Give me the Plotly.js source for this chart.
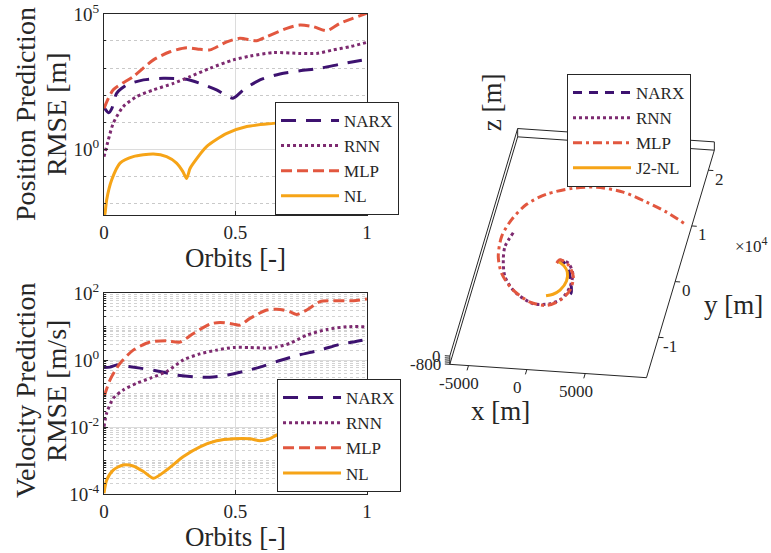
<!DOCTYPE html>
<html>
<head>
<meta charset="utf-8">
<script src="https://cdn.plot.ly/plotly-3.0.1.min.js"></script>
<style>
  html, body { margin: 0; padding: 0; background: #ffffff; }
  #chart { width: 771px; height: 553px; }
</style>
</head>
<body>
<div id="chart"></div>
<script>
// ---------- Position prediction RMSE [m] ----------
const posOrbitNARX = [0, 0.018, 0.03, 0.048, 0.086, 0.15, 0.226, 0.314, 0.365, 0.428, 0.49, 0.53, 0.593, 0.669, 0.745, 0.821, 0.897, 0.948, 1.0];
const posNARX      = [35, 22, 32, 115, 234, 363, 417, 380, 269, 155, 76, 155, 363, 603, 794, 977, 1380, 1700, 2100];

const posOrbitRNN = [0, 0.016, 0.035, 0.073, 0.124, 0.188, 0.264, 0.327, 0.403, 0.492, 0.555, 0.644, 0.745, 0.809, 0.872, 0.935, 1.0];
const posRNN      = [0.52, 2.1, 8.9, 37, 87, 155, 269, 479, 977, 1995, 2754, 3715, 3467, 3467, 4677, 6166, 8913];

const posOrbitMLP = [0, 0.035, 0.111, 0.188, 0.251, 0.314, 0.365, 0.403, 0.467, 0.517, 0.58, 0.619, 0.695, 0.745, 0.796, 0.847, 0.897, 1.0];
const posMLP      = [32, 155, 480, 2000, 4000, 5600, 4900, 4700, 9300, 12600, 10200, 14500, 29500, 39000, 34000, 24000, 44700, 107000];

const posOrbitNL = [0, 0.004, 0.01, 0.029, 0.061, 0.111, 0.188, 0.238, 0.276, 0.30, 0.314, 0.327, 0.34, 0.39, 0.467, 0.543, 0.644, 0.75, 0.85, 1.0];
const posNL      = [0.003, 0.0042, 0.013, 0.071, 0.30, 0.52, 0.65, 0.52, 0.30, 0.145, 0.081, 0.19, 0.30, 1.23, 3.8, 6.8, 8.9, 11, 12.6, 14];

// ---------- Velocity prediction RMSE [m/s] ----------
const velOrbitNARX = [0, 0.023, 0.048, 0.073, 0.137, 0.213, 0.276, 0.34, 0.403, 0.467, 0.53, 0.593, 0.669, 0.745, 0.821, 0.897, 0.948, 1.0];
const velNARX      = [0.6, 0.62, 0.72, 0.68, 0.58, 0.46, 0.36, 0.32, 0.31, 0.36, 0.46, 0.62, 0.98, 1.45, 2.0, 3.0, 3.5, 4.2];

const velOrbitRNN = [0, 0.01, 0.035, 0.073, 0.124, 0.175, 0.238, 0.302, 0.365, 0.428, 0.492, 0.555, 0.619, 0.657, 0.707, 0.771, 0.847, 0.922, 1.0];
const velRNN      = [0.0102, 0.026, 0.072, 0.129, 0.204, 0.288, 0.457, 1.02, 1.55, 2.0, 2.4, 2.4, 2.3, 2.5, 3.2, 5.6, 8.3, 10, 10];

const velOrbitMLP = [0, 0.023, 0.061, 0.111, 0.175, 0.238, 0.289, 0.34, 0.403, 0.441, 0.492, 0.517, 0.555, 0.619, 0.669, 0.707, 0.732, 0.771, 0.821, 0.872, 0.948, 1.0];
const velMLP      = [0.08, 0.26, 0.81, 2.0, 3.5, 3.8, 3.5, 6.3, 12, 13.5, 12, 11.2, 17.8, 31.6, 33, 28, 23.4, 31.6, 56, 60, 60, 68];

const velOrbitNL = [0, 0.01, 0.035, 0.073, 0.111, 0.15, 0.188, 0.238, 0.302, 0.365, 0.428, 0.492, 0.555, 0.593, 0.631, 0.657, 0.75, 0.87, 1.0];
const velNL      = [1.05e-4, 2.6e-4, 5.2e-4, 7.4e-4, 6.9e-4, 4.7e-4, 2.95e-4, 5.2e-4, 1.32e-3, 2.57e-3, 3.9e-3, 4.5e-3, 4.5e-3, 3.9e-3, 4.5e-3, 5.8e-3, 7.9e-3, 0.01, 0.011];

// ---------- Relative trajectory [m] ----------
const trajNARXx = [-62, 441, 1013, 1528, 1901, 1642];
const trajNARXy = [1336, 1412, 407, -1697, -4004, -4589];
const trajNARXz = [-400, -400, -400, -400, -400, -400];

const trajRNNx = [138, 919, 1542, 1657, 1256, 402, -999, -2829, -4050, -4618, -4814, -4467];
const trajRNNy = [1730, 1248, -476, -2895, -5066, -6104, -6315, -4482, -1938, 1012, 3401, 5945];
const trajRNNz = [-400, -400, -400, -400, -400, -400, -400, -400, -400, -400, -400, -400];

const trajMLPx = [-55, 138, 962, 1679, 1741, 1157, 169, -1316, -3193, -4414, -5121, -5346, -4932, -4056, -2633, -547, 1390, 3749, 5966, 7898, 9731];
const trajMLPy = [1101, 1730, 945, -1074, -3482, -5389, -6447, -6072, -3918, -1375, 1536, 5139, 8238, 11097, 13131, 14481, 14956, 14402, 12920, 11393, 9541];
const trajMLPz = [-400, -400, -400, -400, -400, -400, -400, -400, -400, -400, -400, -400, -400, -400, -400, -400, -400, -400, -400, -400, -400];

const trajNLx = [106, 626, 1056, 1218, 902, 417, -132];
const trajNLy = [1361, 713, -314, -1926, -3609, -4410, -4765];
const trajNLz = [-400, -400, -400, -400, -400, -400, -400];

const xRange3d = [-6600, 10250];
const yRange3d = [-17250, 23600];
const zRange3d = [-800, 0];
const xTicks3d = [-5000, 0, 5000];
const yTicks3d = [-10000, 0, 10000, 20000];
const yTickText3d = ['-1', '0', '1', '2'];
const zTicks3d = [-800, -600, -400, -200, 0];
const zTickLabels3d = { '-800': '-800', '0': '0' };

// ---------- styling ----------
const colNARX = '#3d1270';
const colRNN  = '#7d2a70';
const colMLP  = '#e2573f';
const colNL   = '#f6a417';
const serif = 'Liberation Serif, Times New Roman, serif';
const ink = '#262626';

// ---------- 3-D view: orthographic projection onto the page plane ----------
const viewAz = 8.1 * Math.PI / 180;     // azimuth
const viewEl = 28.5 * Math.PI / 180;    // elevation
const pxPerMetre = 0.01179;             // drawing scale of the 3-D box
const originPx = [555.5, 273.5];        // page position of (0, 0, zmin)
const W = 771, H = 553;
const viewDomainX = [0.5, 1.0];

function project(x, y, z) {
  return [
    x * Math.cos(viewAz) + y * Math.sin(viewAz),
    -x * Math.sin(viewAz) * Math.sin(viewEl) + y * Math.cos(viewAz) * Math.sin(viewEl) + z * Math.cos(viewEl)
  ];
}
function projectAll(xs, ys, zs) {
  const u = [], v = [];
  for (let i = 0; i < xs.length; i++) {
    if (xs[i] === null) { u.push(null); v.push(null); continue; }
    const p = project(xs[i], ys[i], zs[i]);
    u.push(p[0]); v.push(p[1]);
  }
  return { u: u, v: v };
}
const o3 = project(0, 0, zRange3d[0]);
const uRange = [o3[0] + (viewDomainX[0] * W - originPx[0]) / pxPerMetre, o3[0] + (viewDomainX[1] * W - originPx[0]) / pxPerMetre];
const vRange = [o3[1] - (H - originPx[1]) / pxPerMetre, o3[1] + originPx[1] / pxPerMetre];

function lineTrace(x, y, name, color, dash, xa, ya, legend) {
  return { type: 'scatter', mode: 'lines', x: x, y: y, name: name, xaxis: xa, yaxis: ya,
           legend: legend, line: { color: color, width: 3, dash: dash, shape: 'spline', smoothing: 0.7 },
           hoverinfo: 'skip' };
}

const traces = [
  lineTrace(posOrbitNARX, posNARX, 'NARX', colNARX, '15px,10px', 'x', 'y', 'legend'),
  lineTrace(posOrbitRNN,  posRNN,  'RNN',  colRNN,  '3px,3px',   'x', 'y', 'legend'),
  lineTrace(posOrbitMLP,  posMLP,  'MLP',  colMLP,  '11px,5px',  'x', 'y', 'legend'),
  lineTrace(posOrbitNL,   posNL,   'NL',   colNL,   'solid',     'x', 'y', 'legend'),
  lineTrace(velOrbitNARX, velNARX, 'NARX', colNARX, '15px,10px', 'x2', 'y2', 'legend2'),
  lineTrace(velOrbitRNN,  velRNN,  'RNN',  colRNN,  '3px,3px',   'x2', 'y2', 'legend2'),
  lineTrace(velOrbitMLP,  velMLP,  'MLP',  colMLP,  '11px,5px',  'x2', 'y2', 'legend2'),
  lineTrace(velOrbitNL,   velNL,   'NL',   colNL,   'solid',     'x2', 'y2', 'legend2')
];

// box edges (back planes) and axis ticks of the 3-D view
const X0 = xRange3d[0], X1 = xRange3d[1], Y0 = yRange3d[0], Y1 = yRange3d[1], Z0 = zRange3d[0], Z1 = zRange3d[1];
const edges = [
  [[X0, Y0, Z0], [X1, Y0, Z0]], [[X1, Y0, Z0], [X1, Y1, Z0]], [[X1, Y1, Z0], [X0, Y1, Z0]], [[X0, Y1, Z0], [X0, Y0, Z0]],
  [[X0, Y0, Z1], [X0, Y1, Z1]], [[X0, Y1, Z1], [X1, Y1, Z1]],
  [[X0, Y0, Z0], [X0, Y0, Z1]], [[X0, Y1, Z0], [X0, Y1, Z1]], [[X1, Y1, Z0], [X1, Y1, Z1]]
];
const boxX = [], boxY = [], boxZ = [];
edges.forEach(e => { boxX.push(e[0][0], e[1][0], null); boxY.push(e[0][1], e[1][1], null); boxZ.push(e[0][2], e[1][2], null); });
const boxP = projectAll(boxX, boxY, boxZ);

const tickPx = 5;
function tickSeg(p, dir) {
  // short mark from p, pointing along data direction dir, tickPx long on the page
  const a = project(p[0], p[1], p[2]);
  const b = project(p[0] + dir[0], p[1] + dir[1], p[2] + dir[2]);
  const du = b[0] - a[0], dv = b[1] - a[1];
  const n = Math.sqrt(du * du + dv * dv) * pxPerMetre;
  return [[a[0], a[0] + du / n * tickPx, null], [a[1], a[1] + dv / n * tickPx, null]];
}
const tickU = [], tickV = [];
xTicks3d.forEach(t => { const s = tickSeg([t, Y0, Z0], [0, -1, 0]); tickU.push(...s[0]); tickV.push(...s[1]); });
yTicks3d.forEach(t => { const s = tickSeg([X1, t, Z0], [1, 0, 0]); tickU.push(...s[0]); tickV.push(...s[1]); });
zTicks3d.forEach(t => { const s = tickSeg([X0, Y0, t], [-1, 0, 0]); tickU.push(...s[0]); tickV.push(...s[1]); });

traces.push({ type: 'scatter', mode: 'lines', x: boxP.u, y: boxP.v, xaxis: 'x3', yaxis: 'y3',
              line: { color: ink, width: 1 }, showlegend: false, hoverinfo: 'skip' });
traces.push({ type: 'scatter', mode: 'lines', x: tickU, y: tickV, xaxis: 'x3', yaxis: 'y3',
              line: { color: ink, width: 1 }, showlegend: false, hoverinfo: 'skip' });

function traj(xs, ys, zs, name, color, dash) {
  const p = projectAll(xs, ys, zs);
  return { type: 'scatter', mode: 'lines', x: p.u, y: p.v, name: name, xaxis: 'x3', yaxis: 'y3',
           legend: 'legend3', line: { color: color, width: 3, dash: dash, shape: 'spline', smoothing: 0.8 },
           hoverinfo: 'skip' };
}
traces.push(traj(trajNARXx, trajNARXy, trajNARXz, 'NARX', colNARX, '9px,7px'));
traces.push(traj(trajRNNx,  trajRNNy,  trajRNNz,  'RNN',  colRNN,  '3px,3px'));
traces.push(traj(trajMLPx,  trajMLPy,  trajMLPz,  'MLP',  colMLP,  '9px,4px,3px,4px'));
traces.push(traj(trajNLx,   trajNLy,   trajNLz,   'J2-NL', colNL,  'solid'));

// labels of the 3-D view
const ann = [];
function ann3(p, text, opts) {
  const q = project(p[0], p[1], p[2]);
  ann.push(Object.assign({ xref: 'x3', yref: 'y3', x: q[0], y: q[1], text: text, showarrow: false,
                           xanchor: 'center', yanchor: 'middle',
                           font: { family: serif, size: 17, color: ink } }, opts));
}
xTicks3d.forEach(t => ann3([t, Y0, Z0], String(t), { xshift: -9, yshift: -18 }));
yTicks3d.forEach((t, i) => ann3([X1, t, Z0], yTickText3d[i], { xshift: 11, yshift: -9 }));
zTicks3d.forEach(t => { if (zTickLabels3d[String(t)]) ann3([X0, Y0, t], zTickLabels3d[String(t)], { xanchor: 'right', xshift: -7, yshift: 0 }); });
ann3([X1, 10000, Z0], '×10<sup>4</sup>', { xshift: 60, yshift: -19 });
ann3([(X0 + X1) / 2, Y0, Z0], 'x [m]', { xshift: -48, yshift: -40, font: { family: serif, size: 27, color: ink } });
ann3([X1, (Y0 + Y1) / 2, Z0], 'y [m]', { xshift: 53, yshift: -41, font: { family: serif, size: 27, color: ink } });
ann3([X0, Y1, Z1], 'z [m]', { xshift: -26, yshift: 26, textangle: -90, font: { family: serif, size: 27, color: ink } });

// y-axis titles of the two error panels
const titleFont = { family: serif, size: 28, color: ink };
function yTitle(xPx, yPx, text) {
  ann.push({ xref: 'paper', yref: 'paper', x: xPx / W, y: 1 - yPx / H, xanchor: 'center', yanchor: 'middle',
             text: text, textangle: -90, showarrow: false, font: titleFont });
}
yTitle(25, 114, 'Position Prediction');
yTitle(56, 114, 'RMSE [m]');
yTitle(25, 391, 'Velocity Prediction');
yTitle(56, 391, 'RMSE [m/s]');

function decades(lo, hi, full) {
  const out = [];
  for (let k = lo; k < hi; k++) {
    const steps = full ? [1, 2, 3, 4, 5, 6, 7, 8, 9] : [1];
    steps.forEach(m => out.push(m * Math.pow(10, k)));
  }
  out.push(Math.pow(10, hi));
  return out;
}

const xCommon = {
  range: [0, 1], tickvals: [0, 0.5, 1], ticktext: ['0', '0.5', '1'],
  showline: true, mirror: true, linecolor: ink, linewidth: 1,
  ticks: 'inside', ticklen: 4, tickcolor: ink,
  showgrid: true, gridcolor: '#dcdcdc', zeroline: false,
  tickfont: { family: serif, size: 19, color: ink },
  title: { text: 'Orbits [-]', font: { family: serif, size: 27, color: ink }, standoff: 5 }
};

const posMajor = [1, 1e5];
const velMajor = [1e-4, 1e-2, 1, 1e2];
const legendStyle = { xanchor: 'left', yanchor: 'top', bgcolor: '#ffffff', bordercolor: ink, borderwidth: 1,
                      font: { family: serif, size: 17, color: ink }, itemwidth: 58 };

const layout = {
  width: W, height: H,
  margin: { l: 0, r: 0, t: 0, b: 0 },
  paper_bgcolor: '#ffffff', plot_bgcolor: '#ffffff',
  showlegend: true,
  font: { family: serif, color: ink },
  xaxis: Object.assign({}, xCommon, { domain: [0.1349, 0.476], anchor: 'y' }),
  xaxis2: Object.assign({}, xCommon, { domain: [0.1349, 0.476], anchor: 'y2' }),
  yaxis: {
    type: 'log', range: [-2.444, 5], domain: [0.6112, 0.9747], anchor: 'x',
    tickvals: posMajor, ticktext: ['10<sup>0</sup>', '10<sup>5</sup>'],
    showline: true, mirror: true, linecolor: ink, linewidth: 1,
    ticks: 'inside', ticklen: 4, tickcolor: ink,
    showgrid: true, gridcolor: '#dcdcdc', zeroline: false,
    minor: { tickvals: decades(-2, 4, false).filter(v => v !== 1), showgrid: true, gridcolor: '#c9c9c9', griddash: 'dot', ticks: 'inside', ticklen: 2, tickcolor: ink },
    tickfont: { family: serif, size: 19, color: ink }
  },
  yaxis2: {
    type: 'log', range: [-4, 2], domain: [0.1067, 0.4696], anchor: 'x2',
    tickvals: velMajor, ticktext: ['10<sup>-4</sup>', '10<sup>-2</sup>', '10<sup>0</sup>', '10<sup>2</sup>'],
    showline: true, mirror: true, linecolor: ink, linewidth: 1,
    ticks: 'inside', ticklen: 4, tickcolor: ink,
    showgrid: true, gridcolor: '#dcdcdc', zeroline: false,
    minor: { tickvals: decades(-4, 2, true).filter(v => velMajor.indexOf(v) < 0), showgrid: true, gridcolor: '#d2d2d2', griddash: 'dot', ticks: 'inside', ticklen: 2, tickcolor: ink },
    tickfont: { family: serif, size: 19, color: ink }
  },
  xaxis3: { domain: viewDomainX, range: uRange, visible: false, anchor: 'y3', fixedrange: true },
  yaxis3: { domain: [0, 1], range: vRange, visible: false, anchor: 'x3', fixedrange: true },
  legend: Object.assign({ x: 0.3567, y: 0.8156 }, legendStyle),
  legend2: Object.assign({ x: 0.3593, y: 0.3146 }, legendStyle),
  legend3: Object.assign({ x: 0.7354, y: 0.8662 }, legendStyle),
  annotations: ann
};

Plotly.newPlot('chart', traces, layout, { staticPlot: true, displayModeBar: false });
</script>
</body>
</html>
